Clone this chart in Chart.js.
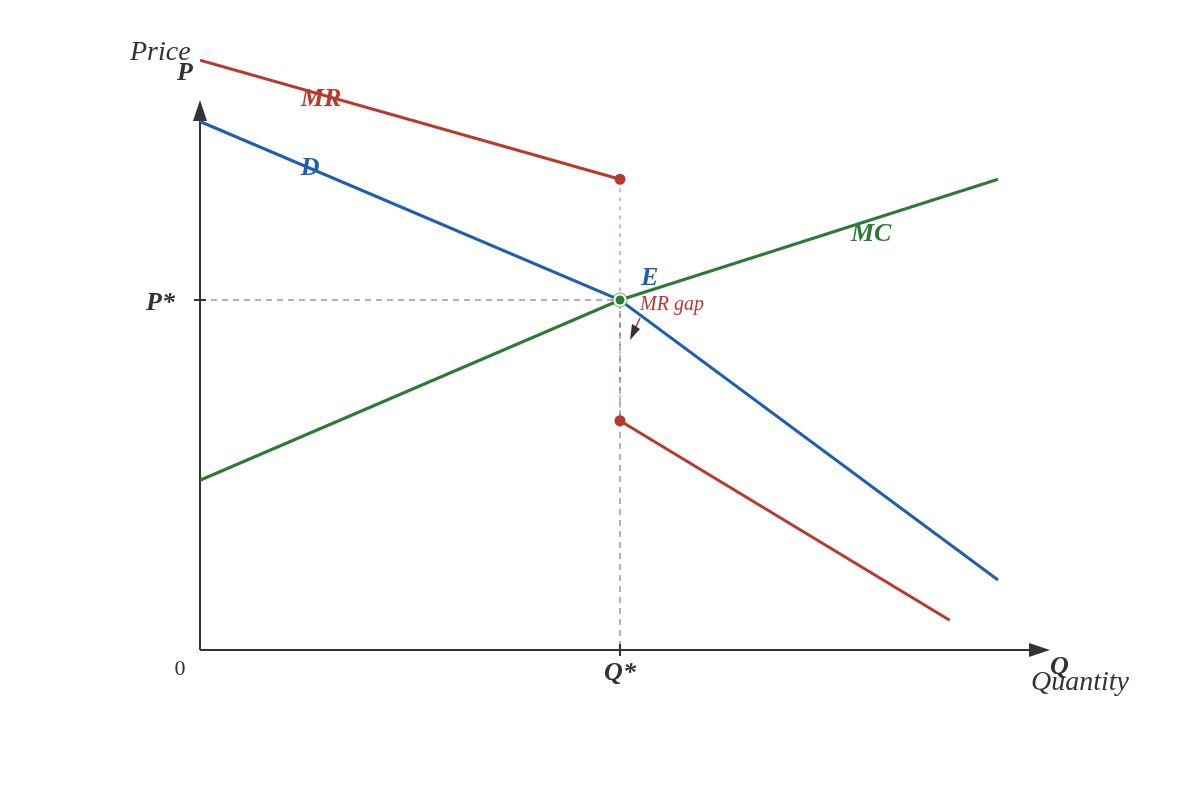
<!DOCTYPE html>
<html>
<head>
<meta charset="utf-8">
<script src="https://cdn.jsdelivr.net/npm/chart.js@4/dist/chart.umd.min.js"></script>
<style>
  body { margin: 0; background: #fff; }
  canvas { display: block; }
</style>
</head>
<body>
<canvas id="kinked" width="1200" height="800"></canvas>
<script>
// curve points (quantity, price)
const demand = [[0, 15.1], [10, 10], [19, 2]];
const mrUpper = [[0, 16.85], [10, 13.45]];
const mrLower = [[10, 6.55], [17.85, 0.85]];
const marginalCost = [[0, 4.85], [10, 10], [19, 13.45]];
const equilibrium = [10, 10];

const RED = '#b83a2f';
const BLUE = '#1f5fae';
const GREEN = '#2e7a35';
const INK = '#333333';
const SERIF = '"Liberation Serif", "Times New Roman", serif';

const pts = arr => arr.map(p => ({ x: p[0], y: p[1] }));

// text labels, placed relative to data values
const curveLabels = [
  { text: 'MR', x: 2.4, y: 15.55, color: RED },
  { text: 'D', x: 2.4, y: 13.57, color: BLUE },
  { text: 'MC', x: 15.5, y: 11.7, color: GREEN },
  { text: 'E', x: 10.5, y: 10.43, color: BLUE }
];

const axesPlugin = {
  id: 'axesPlugin',
  beforeDatasetsDraw(chart) {
    const { ctx, scales: { x, y } } = chart;
    const x0 = x.getPixelForValue(0), y0 = y.getPixelForValue(0);
    const qs = x.getPixelForValue(equilibrium[0]), ps = y.getPixelForValue(equilibrium[1]);
    ctx.save();
    // guide lines
    ctx.setLineDash([6, 5]);
    ctx.lineWidth = 1.5;
    ctx.strokeStyle = '#9a9a9a';
    ctx.beginPath();
    ctx.moveTo(x0, ps); ctx.lineTo(qs, ps);
    ctx.moveTo(qs, ps); ctx.lineTo(qs, y0);
    ctx.stroke();
    ctx.strokeStyle = 'rgba(184,58,47,0.5)';
    ctx.setLineDash([4, 5]);
    ctx.beginPath();
    ctx.moveTo(qs, y.getPixelForValue(mrUpper[1][1]));
    ctx.lineTo(qs, y.getPixelForValue(mrLower[0][1]));
    ctx.stroke();
    ctx.setLineDash([]);
    // axes
    ctx.strokeStyle = INK;
    ctx.fillStyle = INK;
    ctx.lineWidth = 2;
    ctx.beginPath();
    ctx.moveTo(x0, y0); ctx.lineTo(x0, 118);
    ctx.moveTo(x0, y0); ctx.lineTo(1032, y0);
    // ticks at P* and Q*
    ctx.moveTo(x0 - 6, ps); ctx.lineTo(x0 + 6, ps);
    ctx.moveTo(qs, y0 - 6); ctx.lineTo(qs, y0 + 6);
    ctx.stroke();
    ctx.beginPath();
    ctx.moveTo(x0, 100); ctx.lineTo(x0 - 7, 121); ctx.lineTo(x0 + 7, 121); ctx.closePath();
    ctx.fill();
    ctx.beginPath();
    ctx.moveTo(1050, y0); ctx.lineTo(1029, y0 - 7); ctx.lineTo(1029, y0 + 7); ctx.closePath();
    ctx.fill();
    ctx.restore();
  },
  afterDatasetsDraw(chart) {
    const { ctx, scales: { x, y } } = chart;
    const x0 = x.getPixelForValue(0), y0 = y.getPixelForValue(0);
    const qs = x.getPixelForValue(equilibrium[0]), ps = y.getPixelForValue(equilibrium[1]);
    ctx.save();
    ctx.textBaseline = 'alphabetic';
    ctx.fillStyle = INK;
    ctx.font = 'italic 28px ' + SERIF;
    ctx.textAlign = 'left';
    ctx.fillText('Price', 130, 60);
    ctx.fillText('Quantity', 1031, 690);
    ctx.font = 'italic bold 26px ' + SERIF;
    ctx.fillText('P', 177, 80);
    ctx.fillText('Q', 1050, 674);
    ctx.textAlign = 'right';
    ctx.fillText('P*', x0 - 25, ps + 10);
    ctx.textAlign = 'center';
    ctx.fillText('Q*', qs, y0 + 30);
    ctx.font = '22px ' + SERIF;
    ctx.fillText('0', x0 - 20, y0 + 25);
    ctx.textAlign = 'left';
    ctx.font = 'italic bold 26px ' + SERIF;
    curveLabels.forEach(l => {
      ctx.fillStyle = l.color;
      ctx.fillText(l.text, x.getPixelForValue(l.x), y.getPixelForValue(l.y));
    });
    // MR gap note
    ctx.fillStyle = RED;
    ctx.font = 'italic 20px ' + SERIF;
    ctx.fillText('MR gap', qs + 20, ps + 10);
    ctx.strokeStyle = RED;
    ctx.lineWidth = 1.5;
    ctx.beginPath();
    ctx.moveTo(qs + 20, ps + 18); ctx.lineTo(qs + 15, ps + 29);
    ctx.stroke();
    ctx.fillStyle = INK;
    ctx.beginPath();
    ctx.moveTo(qs + 10, ps + 40); ctx.lineTo(qs + 12, ps + 24); ctx.lineTo(qs + 20, ps + 29); ctx.closePath();
    ctx.fill();
    ctx.restore();
  }
};

const lineSet = (data, color, endDot) => ({
  data: pts(data),
  showLine: true,
  borderColor: color,
  backgroundColor: color,
  borderWidth: 3,
  pointRadius: data.map((p, i) => (endDot === i ? 4 : 0)),
  pointHoverRadius: 0,
  tension: 0,
  order: 1
});

new Chart(document.getElementById('kinked'), {
  type: 'scatter',
  data: {
    datasets: [
      lineSet(mrUpper, RED, 1),
      lineSet(mrLower, RED, 0),
      lineSet(demand, BLUE, -1),
      lineSet(marginalCost, GREEN, -1),
      {
        data: [{ x: equilibrium[0], y: equilibrium[1] }],
        pointRadius: 7,
        backgroundColor: '#ffffff',
        borderColor: 'rgba(46,122,53,0.45)',
        borderWidth: 1.5,
        order: -1
      },
      {
        data: [{ x: equilibrium[0], y: equilibrium[1] }],
        pointRadius: 4.5,
        backgroundColor: GREEN,
        borderColor: GREEN,
        borderWidth: 0,
        order: -2
      }
    ]
  },
  options: {
    responsive: false,
    animation: false,
    layout: { padding: { left: 200, right: 160, top: 55, bottom: 150 } },
    plugins: { legend: { display: false }, tooltip: { enabled: false } },
    scales: {
      x: { type: 'linear', min: 0, max: 20, display: false },
      y: { type: 'linear', min: 0, max: 17, display: false }
    }
  },
  plugins: [axesPlugin]
});
</script>
</body>
</html>
